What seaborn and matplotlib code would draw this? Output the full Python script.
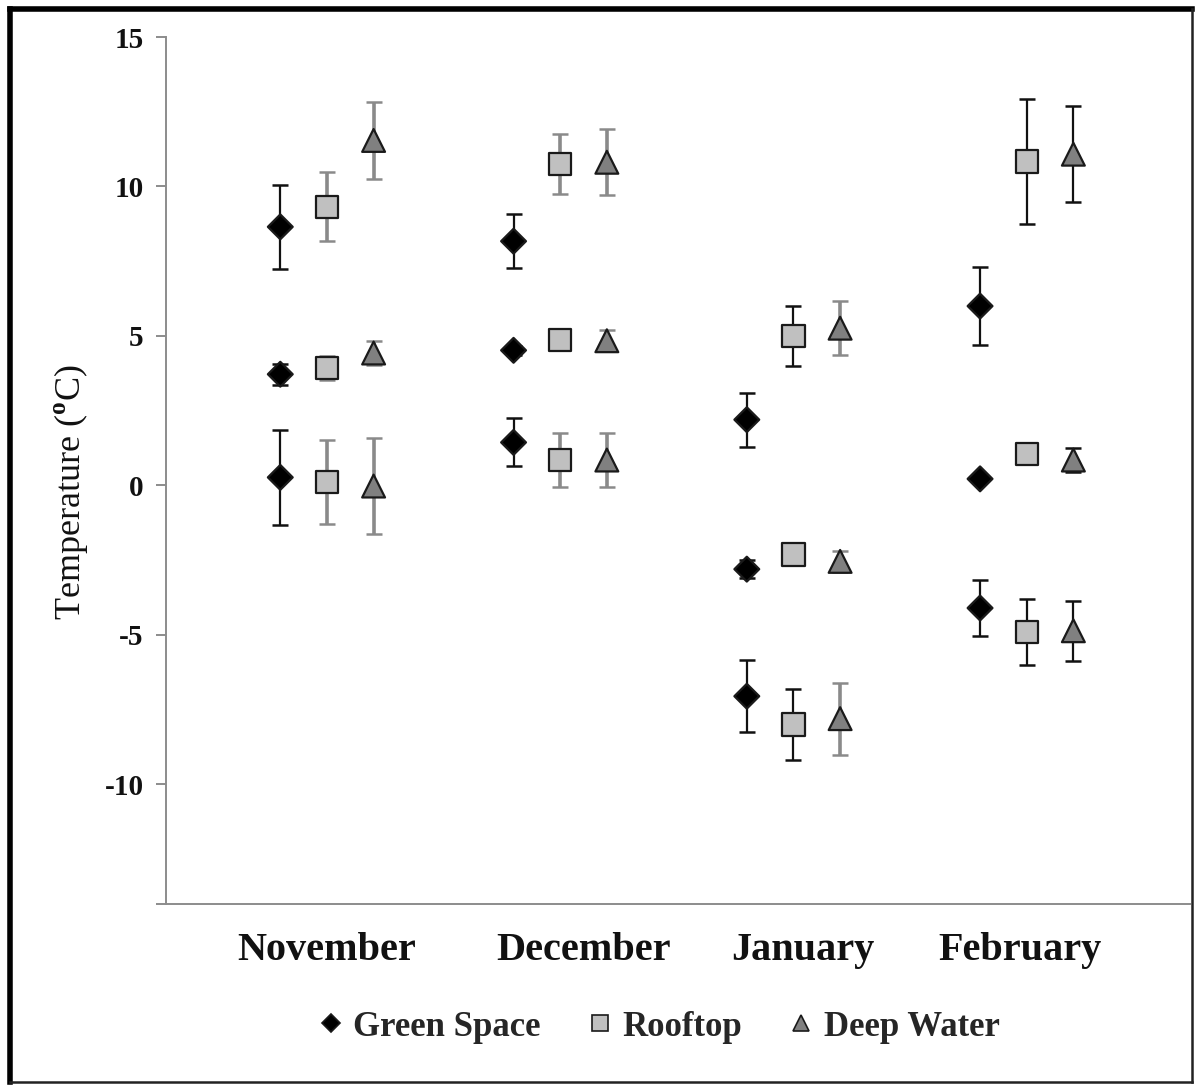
import numpy as np
import pandas as pd
import matplotlib
matplotlib.use("Agg")
import matplotlib.pyplot as plt
import seaborn as sns
from matplotlib.lines import Line2D

# ---- data -------------------------------------------------------------
months = ["November", "December", "January", "February"]
sites = ["Green Space", "Rooftop", "Deep Water"]
stats = ["max", "mean", "min"]

green_max = [8.65, 8.17, 2.20, 6.00]
green_max_err = [1.40, 0.90, 0.90, 1.30]
green_mean = [3.72, 4.52, -2.80, 0.22]
green_mean_err = [0.35, 0.15, 0.30, 0.00]
green_min = [0.27, 1.44, -7.05, -4.10]
green_min_err = [1.60, 0.80, 1.20, 0.95]

roof_max = [9.32, 10.75, 5.00, 10.83]
roof_max_err = [1.15, 1.00, 1.00, 2.10]
roof_mean = [3.93, 4.86, -2.31, 1.06]
roof_mean_err = [0.40, 0.15, 0.15, 0.15]
roof_min = [0.12, 0.85, -8.00, -4.90]
roof_min_err = [1.40, 0.90, 1.20, 1.10]

deep_max = [11.54, 10.81, 5.26, 11.08]
deep_max_err = [1.30, 1.10, 0.90, 1.60]
deep_mean = [4.43, 4.84, -2.54, 0.85]
deep_mean_err = [0.40, 0.35, 0.35, 0.40]
deep_min = [-0.02, 0.85, -7.80, -4.86]
deep_min_err = [1.60, 0.90, 1.20, 1.00]

values = {
    "Green Space": {"max": (green_max, green_max_err),
                    "mean": (green_mean, green_mean_err),
                    "min": (green_min, green_min_err)},
    "Rooftop": {"max": (roof_max, roof_max_err),
                "mean": (roof_mean, roof_mean_err),
                "min": (roof_min, roof_min_err)},
    "Deep Water": {"max": (deep_max, deep_max_err),
                   "mean": (deep_mean, deep_mean_err),
                   "min": (deep_min, deep_min_err)},
}

# ---- layout / style ---------------------------------------------------
site_offset = {"Green Space": -0.2, "Rooftop": 0.0, "Deep Water": 0.2}
markers = {"Green Space": "D", "Rooftop": "s", "Deep Water": "^"}
fills = {"Green Space": "#000000", "Rooftop": "#c0c0c0", "Deep Water": "#808080"}
sizes = {"Green Space": 160, "Rooftop": 260, "Deep Water": 270}
# error-bar stems drawn in grey (site, month index)
grey_stems = {("Rooftop", 0), ("Rooftop", 1),
              ("Deep Water", 0), ("Deep Water", 1), ("Deep Water", 2)}
month_label_x = [0.0, 1.10, 2.04, 2.97]

rows = []
for site in sites:
    for stat in stats:
        vals, errs = values[site][stat]
        for i, m in enumerate(months):
            rows.append({"site": site, "stat": stat, "month": m, "mi": i,
                         "x": i + site_offset[site], "temp": vals[i],
                         "err": errs[i]})
df = pd.DataFrame(rows)

sns.set_theme(style="white")
plt.rcParams["font.family"] = ["Liberation Serif", "DejaVu Serif"]
plt.rcParams["mathtext.fontset"] = "custom"
plt.rcParams["mathtext.rm"] = "Liberation Serif"
plt.rcParams["mathtext.bf"] = "Liberation Serif:bold"

W, H = 1196, 1087
fig = plt.figure(figsize=(W / 100, H / 100), dpi=100)
ax = fig.add_axes([166 / W, 1 - 904 / H, (1190 - 166) / W, (904 - 37) / H])

# error bars (behind markers)
for _, r in df.iterrows():
    if r["err"] <= 0:
        continue
    stem = "#8a8a8a" if (r["site"], r["mi"]) in grey_stems else "#111111"
    stem_w = 2.6 if stem != "#111111" else 1.6
    eb = ax.errorbar(r["x"], r["temp"], yerr=r["err"], fmt="none",
                     ecolor=stem, elinewidth=stem_w, capsize=5.5,
                     capthick=1.8, zorder=2)
    for cap in eb[1]:
        cap.set_color("#1a1a1a")

sns.scatterplot(data=df, x="x", y="temp", hue="site", style="site",
                size="site", markers=markers, palette=fills, sizes=sizes,
                edgecolor="#1a1a1a", linewidth=1.6, legend=False,
                zorder=3, ax=ax)

ax.set_xlim(-0.69, 3.70)
ax.set_ylim(-14, 15)
ax.set_yticks([-14, -10, -5, 0, 5, 10, 15],
              labels=["", "-10", "-5", "0", "5", "10", "15"])
ax.set_xticks(month_label_x, labels=months)
ax.tick_params(axis="x", length=0, pad=20, labelsize=29, labelcolor="#111111")
for lab in ax.get_xticklabels():
    lab.set_fontweight("bold")
ax.tick_params(axis="y", direction="out", length=7, width=1.4,
               color="#8c8c8c", pad=9, labelsize=21, left=True,
               labelcolor="#111111")
for lab in ax.get_yticklabels():
    lab.set_fontweight("bold")

for side in ["top", "right"]:
    ax.spines[side].set_visible(False)
for side in ["left", "bottom"]:
    ax.spines[side].set_color("#8c8c8c")
    ax.spines[side].set_linewidth(1.4)

ax.set_xlabel("")
ax.set_ylabel(r"Temperature ($^{\mathbf{o}}$C)", fontsize=26, color="#111111")
ax.yaxis.set_label_coords(-0.074, 0.475)

# legend along the bottom
handles = [Line2D([], [], linestyle="none", marker=markers[s],
                  markerfacecolor=fills[s], markeredgecolor="#1a1a1a",
                  markeredgewidth=1.2,
                  markersize={"Green Space": 9, "Rooftop": 11, "Deep Water": 11}[s])
           for s in sites]
fig.legend(handles, sites, loc="center", bbox_to_anchor=(658 / W, 1 - 1027 / H),
           ncol=3, frameon=False, handlelength=0.8, handletextpad=0.25,
           columnspacing=1.3, prop={"family": "Liberation Serif",
                                     "weight": "bold", "size": 25})

# outer frame
def px_line(x0, y0, x1, y1, lw, color):
    fig.add_artist(Line2D([x0 / W, x1 / W], [1 - y0 / H, 1 - y1 / H],
                          transform=fig.transFigure, color=color, lw=lw,
                          solid_capstyle="projecting"))

px_line(10, 9, 1192, 9, 4.0, "black")
px_line(10, 9, 10, 1082, 4.0, "black")
px_line(1192, 9, 1192, 1082, 1.8, "#222222")
px_line(10, 1082, 1192, 1082, 1.8, "#222222")

fig.savefig("out.png", dpi=100)
